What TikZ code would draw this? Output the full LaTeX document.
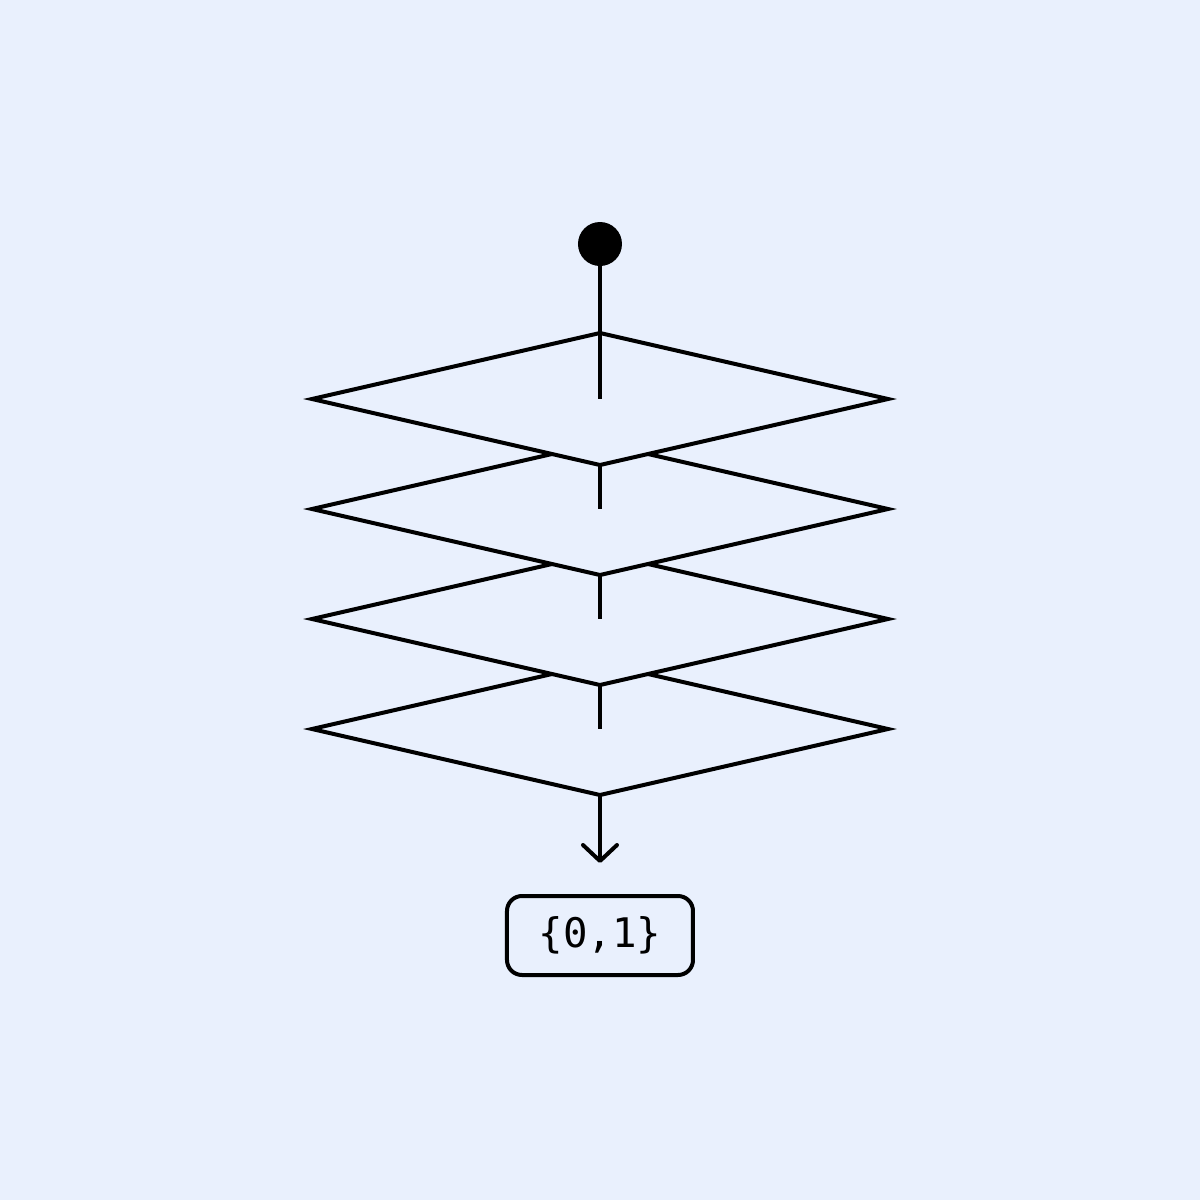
\documentclass[tikz,border=0pt]{standalone}
\usepackage{fontspec}
\setmonofont{DejaVu Sans Mono}
\usetikzlibrary{shapes.geometric, arrows.meta}
\usetikzlibrary{positioning}
\definecolor{bgblue}{HTML}{E9F0FD}
\tikzstyle{layernode}=[diamond, draw=black, fill=bgblue, line width=0.4mm,
					minimum width=5.76cm, minimum height=1.32cm, inner sep=0pt, outer sep=0pt]

\begin{document}
\begin{tikzpicture}[
dotnode/.style={circle, fill=black, minimum size=4.4mm, inner sep=0pt, outer sep=0pt},
outnode/.style={rectangle, draw=black, line width=0.4mm, rounded corners=1.5mm, minimum width=18.6mm, minimum height=7.9mm, font=\ttfamily\fontsize{11.6pt}{13pt}\selectfont},
wire/.style={line width=0.4mm},
]

%Background
\fill[bgblue] (-6,-6) rectangle (6,6);

%Nodes
\foreach \i in {4,3,2,1}
  \node[layernode] (layer\i) at (0,{2.01-1.1*(\i-1)}) {};
\node[dotnode]      (input_node)  at (0,3.56) {};
\node[outnode]      (output_node) at (0,-3.355) {\{0,1\}};
\coordinate[above=3.1mm of output_node.north] (tip);

%Lines
\draw[wire] (input_node.center) -- (layer1.center);
\draw[wire] (layer1.south) -- (layer2.center);
\draw[wire] (layer2.south) -- (layer3.center);
\draw[wire] (layer3.south) -- (layer4.center);
\draw[wire, -{Straight Barb[length=1.6mm, width=3.4mm, round]}] (layer4.south) -- (tip);

\end{tikzpicture}
\end{document}
